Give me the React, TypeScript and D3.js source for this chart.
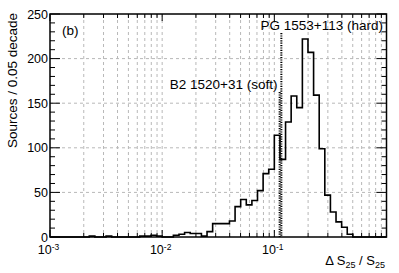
import React from "react";
import * as d3 from "d3";

// 0.05-decade bins from 1e-3 to 1 (60 bins)
const binCounts = [
  0, 0, 0, 0, 0, 0, 0, 1, 0, 0,
  1, 0, 0, 0, 0, 0, 1, 1, 2, 1,
  0, 0, 2, 3, 5, 4, 4, 1, 6, 15,
  15, 15, 18, 34, 42, 36, 41, 52, 71, 76,
  114, 87, 129, 158, 145, 222, 207, 159, 99, 47,
  28, 17, 11, 3, 0, 0, 0, 0, 0, 0,
];
const binWidthDecades = 0.05;
const xMin = 1e-3;
const xMax = 1;
const yMax = 250;
const yMajorTicks = [0, 50, 100, 150, 200, 250];
const yGridTicks = [50, 100, 150, 200];
const xMajorExps = [-3, -2, -1, 0];
const xLabelExps = [-3, -2, -1];
const markerB2 = 0.1115;
const markerPG = 0.1155;
const labelB2 = "B2 1520+31 (soft)";
const labelPG = "PG 1553+113 (hard)";
const panelLabel = "(b)";
const yTitle = "Sources / 0.05 decade";

const FONT = "'Liberation Sans', Arial, Helvetica, sans-serif";

export default function App() {
  const L = 50, R = 386.5, T = 14, B = 237;
  const x = d3.scaleLog().domain([xMin, xMax]).range([L, R]);
  const y = d3.scaleLinear().domain([0, yMax]).range([B, T]);

  const minorX: number[] = [];
  for (let e = -3; e < 0; e++) {
    for (let m = 2; m <= 9; m++) minorX.push(m * Math.pow(10, e));
  }
  const minorY: number[] = [];
  for (let v = 0; v <= yMax; v += 10) if (v % 50 !== 0) minorY.push(v);

  const edge = (k: number) => Math.pow(10, Math.log10(xMin) + k * binWidthDecades);
  const pts: [number, number][] = [[x(edge(0)), y(0)]];
  binCounts.forEach((v, k) => {
    pts.push([x(edge(k)), y(v)]);
    pts.push([x(edge(k + 1)), y(v)]);
  });
  pts.push([x(edge(binCounts.length)), y(0)]);
  const histPath = d3.line()(pts) || "";

  const gridColor = "#b8b8b8";

  return (
    <svg width={399} height={273} style={{ position: "absolute", left: 0, top: 0, background: "#fff" }} fontFamily={FONT}>
      <rect x={0} y={0} width={399} height={273} fill="#fff" />
      {/* grid */}
      {[...minorX, ...xMajorExps.slice(1, 3).map((e) => Math.pow(10, e))].map((v, i) => (
        <line key={"gx" + i} x1={x(v)} x2={x(v)} y1={T} y2={B} stroke={gridColor} strokeWidth={1} strokeDasharray="3,3" />
      ))}
      {yGridTicks.map((v) => (
        <line key={"gy" + v} x1={L} x2={R} y1={y(v)} y2={y(v)} stroke={gridColor} strokeWidth={1} strokeDasharray="3,3" />
      ))}
      {/* histogram */}
      <path d={histPath} fill="none" stroke="#000" strokeWidth={1.6} />
      {/* marker lines */}
      <line x1={x(markerB2)} x2={x(markerB2)} y1={92} y2={B} stroke="#000" strokeWidth={2} strokeDasharray="1.2,1.2" />
      <line x1={x(markerPG)} x2={x(markerPG)} y1={33} y2={B} stroke="#000" strokeWidth={2} strokeDasharray="1.2,1.2" />
      {/* frame */}
      <rect x={L} y={T} width={R - L} height={B - T} fill="none" stroke="#000" strokeWidth={1.5} />
      {/* y ticks */}
      {yMajorTicks.map((v) => (
        <g key={"yt" + v}>
          <line x1={L} x2={L + 10} y1={y(v)} y2={y(v)} stroke="#000" strokeWidth={1} />
          <line x1={R} x2={R - 10} y1={y(v)} y2={y(v)} stroke="#000" strokeWidth={1} />
          <text x={L - 2} y={y(v) + 4.5} fontSize={12.5} textAnchor="end" fill="#000">{v}</text>
        </g>
      ))}
      {minorY.map((v) => (
        <g key={"ym" + v}>
          <line x1={L} x2={L + 5} y1={y(v)} y2={y(v)} stroke="#000" strokeWidth={1} />
          <line x1={R} x2={R - 5} y1={y(v)} y2={y(v)} stroke="#000" strokeWidth={1} />
        </g>
      ))}
      {/* x ticks */}
      {xMajorExps.map((e) => {
        const px = x(Math.pow(10, e));
        return (
          <g key={"xt" + e}>
            <line x1={px} x2={px} y1={B} y2={B - 7} stroke="#000" strokeWidth={1} />
            <line x1={px} x2={px} y1={T} y2={T + 7} stroke="#000" strokeWidth={1} />
          </g>
        );
      })}
      {minorX.map((v, i) => (
        <g key={"xm" + i}>
          <line x1={x(v)} x2={x(v)} y1={B} y2={B - 4} stroke="#000" strokeWidth={1} />
          <line x1={x(v)} x2={x(v)} y1={T} y2={T + 4} stroke="#000" strokeWidth={1} />
        </g>
      ))}
      {xLabelExps.map((e) => (
        <text key={"xl" + e} x={x(Math.pow(10, e)) - 1.5} y={254} fontSize={12.5} textAnchor="middle" fill="#000">
          10<tspan fontSize={8.5} dy={-4.5}>{e}</tspan>
        </text>
      ))}
      {/* titles */}
      <text x={385} y={265} fontSize={13} textAnchor="end" fill="#000">
        Δ S<tspan fontSize={9} dy={3}>25</tspan><tspan dy={-3}> / S</tspan><tspan fontSize={9} dy={3}>25</tspan>
      </text>
      <text transform="translate(16.5,13) rotate(-90)" fontSize={13.5} textAnchor="end" fill="#000">{yTitle}</text>
      <text x={62} y={35} fontSize={13.5} fill="#000">{panelLabel}</text>
      <text x={277.5} y={88.5} fontSize={13.5} textAnchor="end" fill="#000">{labelB2}</text>
      <text x={383} y={29.5} fontSize={13.5} textAnchor="end" fill="#000">{labelPG}</text>
    </svg>
  );
}
